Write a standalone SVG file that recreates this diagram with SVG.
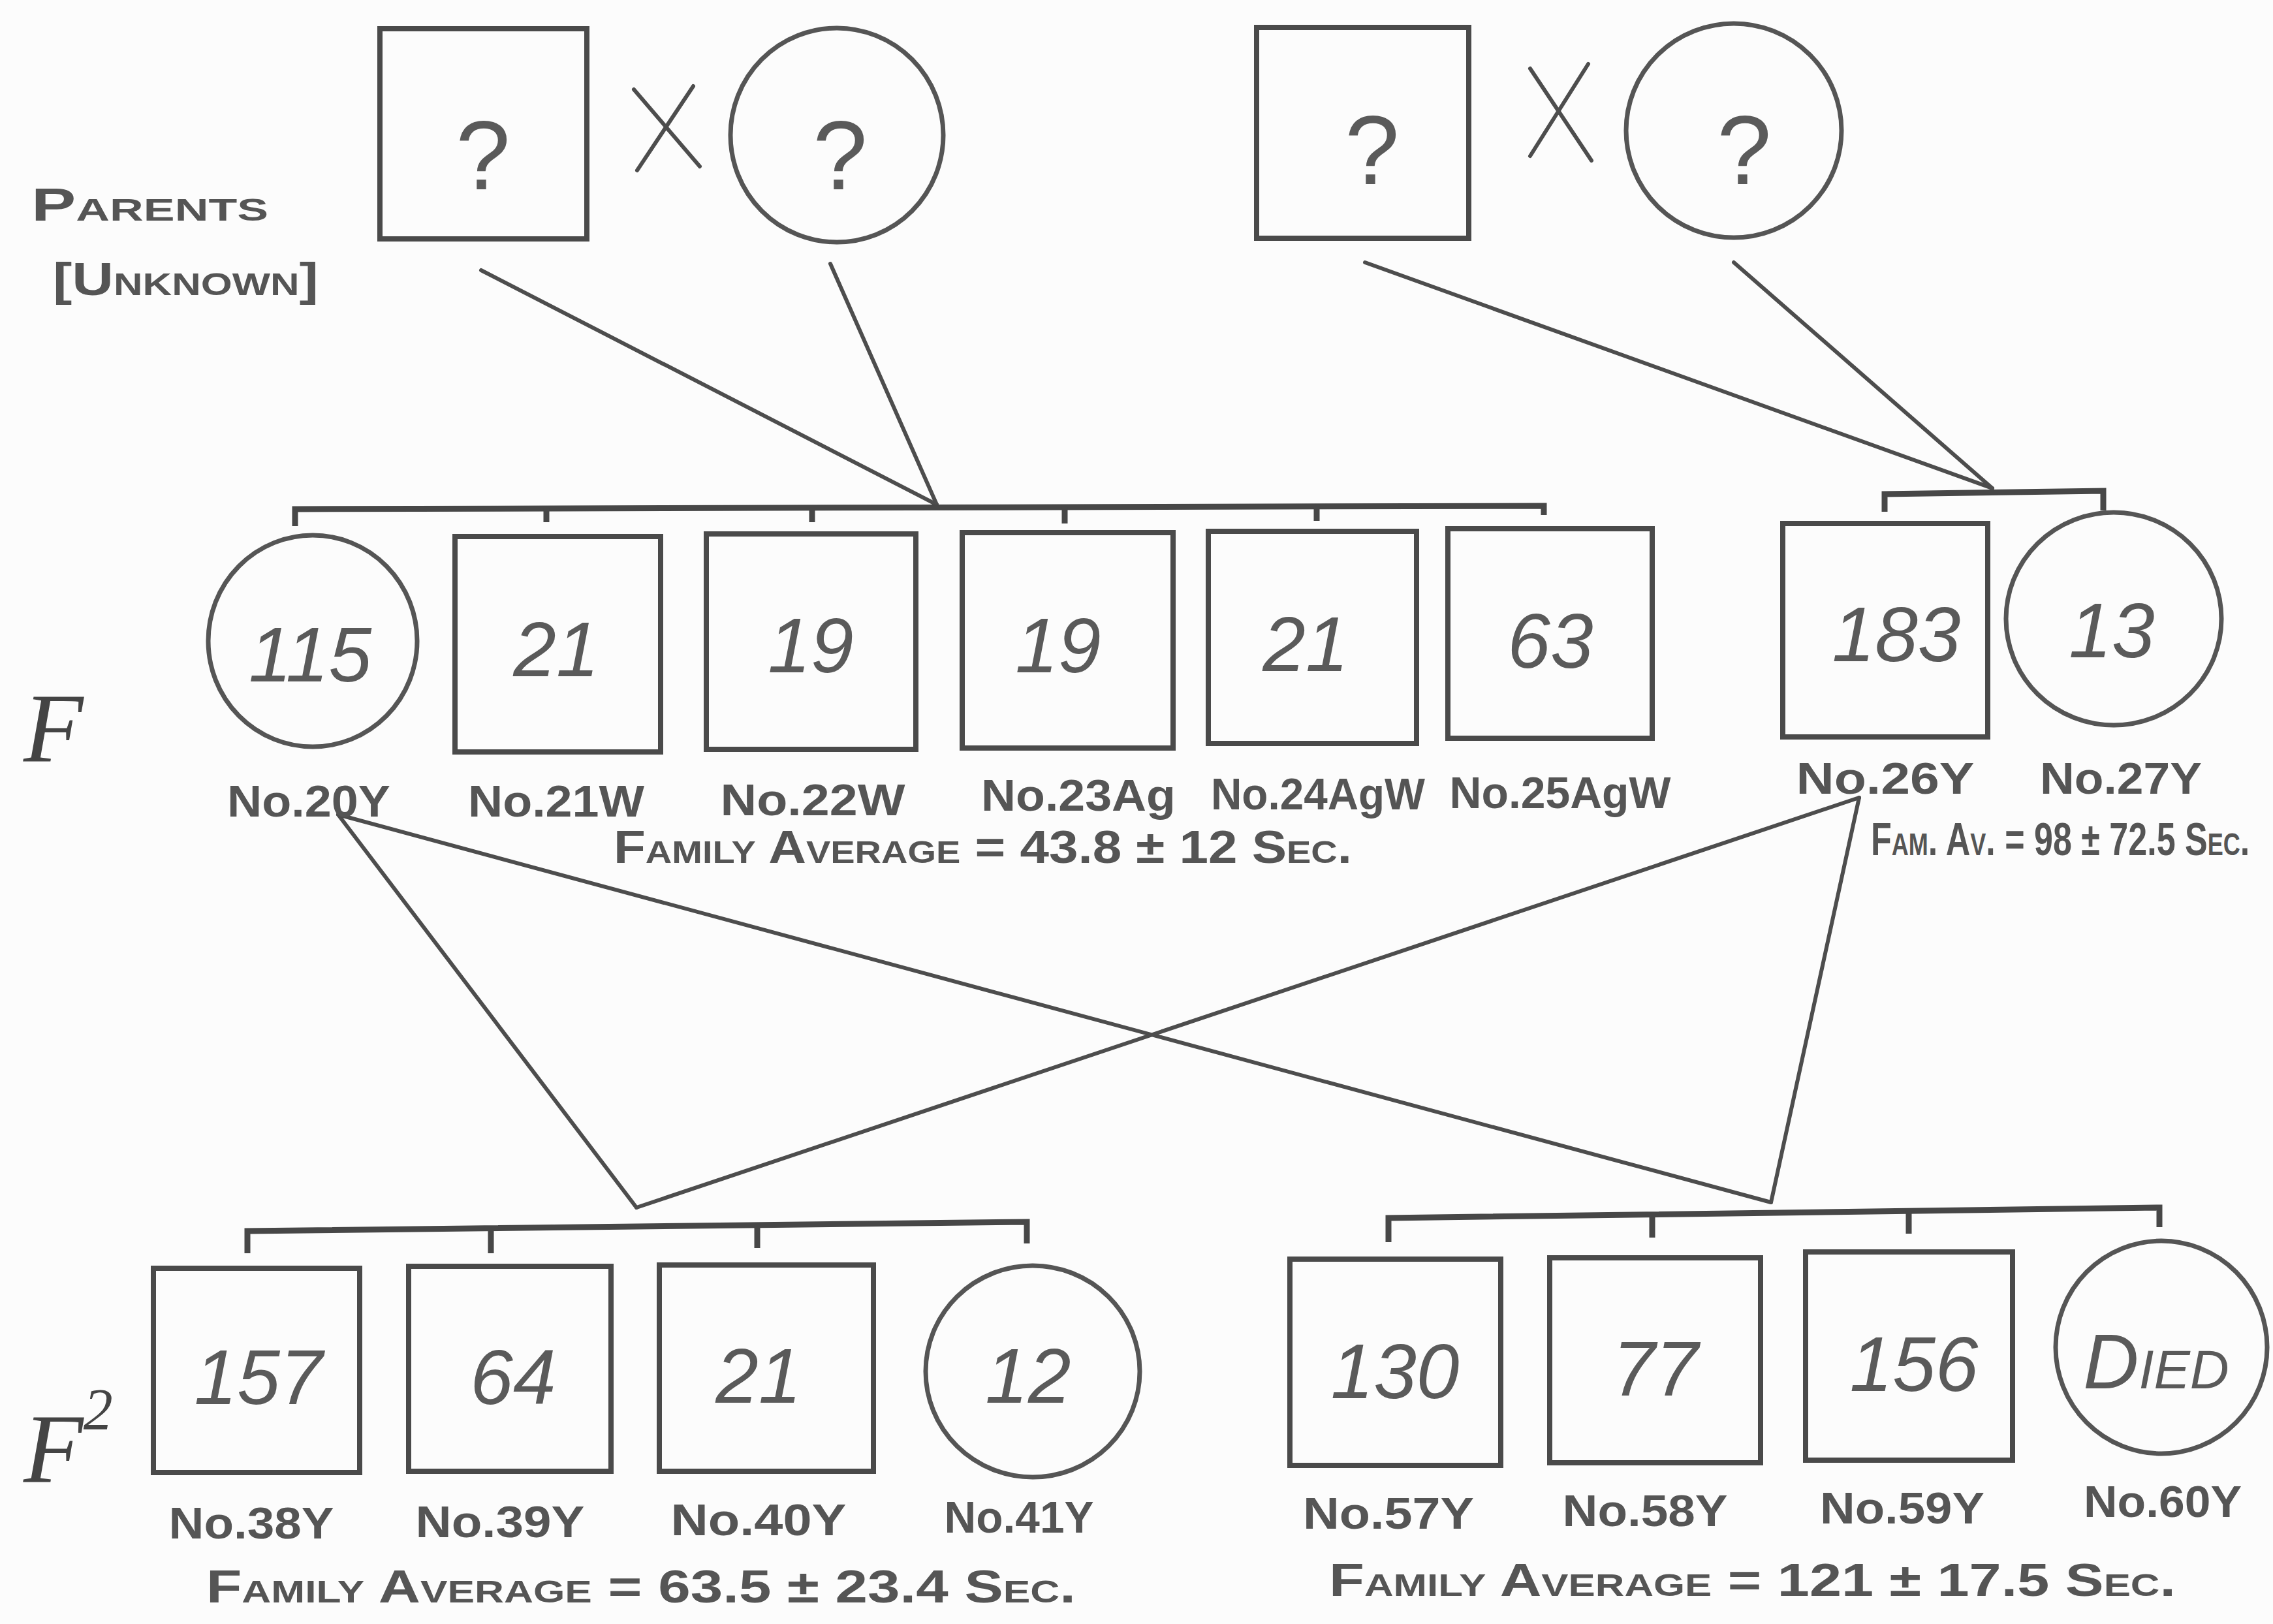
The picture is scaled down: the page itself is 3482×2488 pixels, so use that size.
<svg xmlns="http://www.w3.org/2000/svg" width="3482" height="2488" viewBox="0 0 3482 2488">
<style>
.bg{fill:#fcfcfc}
.sq{fill:none;stroke:#4a4a4a;stroke-width:8}
.ci{fill:none;stroke:#555;stroke-width:7}
.ln{fill:none;stroke:#4d4d4d;stroke-width:6;stroke-linecap:round;stroke-linejoin:round}
.br{fill:none;stroke:#474747;stroke-width:9;stroke-linejoin:miter}
.num{font-family:"Liberation Sans","DejaVu Sans",sans-serif;font-style:italic;font-size:118px;fill:#5a5a5a;text-anchor:middle}
.q{font-family:"Liberation Sans","DejaVu Sans",sans-serif;font-size:150px;fill:#5a5a5a;text-anchor:middle}
.lab{font-family:"Liberation Sans","DejaVu Sans",sans-serif;font-weight:bold;font-size:68px;fill:#555;text-anchor:middle}
.avg{font-family:"Liberation Sans","DejaVu Sans",sans-serif;font-weight:bold;font-size:70px;fill:#555;font-variant:small-caps}
.gen{font-family:"Liberation Serif","DejaVu Serif",serif;font-style:italic;font-size:150px;fill:#444}
</style>
<rect class="bg" x="0" y="0" width="3482" height="2488"/>

<g id="parents-label">
<text class="avg" x="48" y="338" font-size="78" textLength="363" lengthAdjust="spacingAndGlyphs">Parents</text>
<text class="avg" x="81" y="452" font-size="78" textLength="407" lengthAdjust="spacingAndGlyphs">[Unknown]</text>
</g>

<g id="gen-F"><text class="gen" x="36" y="1166">F</text></g>
<g id="gen-F2"><text class="gen" x="36" y="2270">F<tspan font-size="90" dy="-80">2</tspan></text></g>

<g id="connectors">
<line class="ln" x1="737" y1="414" x2="1435" y2="773"/>
<line class="ln" x1="1272" y1="404" x2="1435" y2="773"/>
<line class="ln" x1="2091" y1="402" x2="3052" y2="748"/>
<line class="ln" x1="2656" y1="402" x2="3052" y2="748"/>
<path class="br" d="M452,806 L452,780 L2365,775 L2365,789"/>
<path class="br" d="M837,779 V800 M1244,778 V800 M1631,777 V802 M2017,776 V798"/>
<path class="br" d="M2887,784 L2887,757 L3222,752 L3222,782"/>
<line class="ln" x1="518" y1="1248" x2="975" y2="1850"/>
<line class="ln" x1="518" y1="1248" x2="2713" y2="1842"/>
<line class="ln" x1="2848" y1="1222" x2="975" y2="1850"/>
<line class="ln" x1="2848" y1="1222" x2="2713" y2="1842"/>
<path class="br" d="M379,1920 L379,1886 L1573,1872 L1573,1905"/>
<path class="br" d="M752,1882 V1920 M1160,1877 V1912"/>
<path class="br" d="M2127,1903 L2127,1866 L3308,1850 L3308,1880"/>
<path class="br" d="M2531,1861 V1896 M2924,1856 V1890"/>
</g>

<g id="parent-m1"><rect class="sq" x="582" y="44" width="317" height="322"/><text class="q" x="740" y="290">?</text></g>
<g id="cross1"><path class="ln" d="M971,137 L1072,255 M1062,132 L976,261"/></g>
<g id="parent-f1"><ellipse class="ci" cx="1282" cy="207" rx="163" ry="164"/><text class="q" x="1287" y="290">?</text></g>
<g id="parent-m2"><rect class="sq" x="1925" y="42" width="325" height="323"/><text class="q" x="2102" y="282">?</text></g>
<g id="cross2"><path class="ln" d="M2344,105 L2438,246 M2433,98 L2344,239"/></g>
<g id="parent-f2"><ellipse class="ci" cx="2656" cy="200" rx="165" ry="164"/><text class="q" x="2672" y="282">?</text></g>

<g id="n20"><ellipse class="ci" cx="479" cy="982" rx="160" ry="162"/><text class="num" x="475" y="1044">115</text><text class="lab" x="473" y="1251" textLength="250" lengthAdjust="spacingAndGlyphs">No.20Y</text></g>
<g id="n21"><rect class="sq" x="697" y="822" width="315" height="330"/><text class="num" x="852" y="1036">21</text><text class="lab" x="852" y="1251" textLength="270" lengthAdjust="spacingAndGlyphs">No.21W</text></g>
<g id="n22"><rect class="sq" x="1082" y="818" width="321" height="330"/><text class="num" x="1242" y="1030">19</text><text class="lab" x="1245" y="1249" textLength="283" lengthAdjust="spacingAndGlyphs">No.22W</text></g>
<g id="n23"><rect class="sq" x="1474" y="816" width="323" height="330"/><text class="num" x="1621" y="1030">19</text><text class="lab" x="1652" y="1242" textLength="298" lengthAdjust="spacingAndGlyphs">No.23Ag</text></g>
<g id="n24"><rect class="sq" x="1851" y="814" width="319" height="325"/><text class="num" x="2000" y="1028">21</text><text class="lab" x="2019" y="1240" textLength="328" lengthAdjust="spacingAndGlyphs">No.24AgW</text></g>
<g id="n25"><rect class="sq" x="2218" y="810" width="313" height="321"/><text class="num" x="2375" y="1023">63</text><text class="lab" x="2390" y="1238" textLength="339" lengthAdjust="spacingAndGlyphs">No.25AgW</text></g>
<g id="n26"><rect class="sq" x="2731" y="802" width="314" height="327"/><text class="num" x="2905" y="1013">183</text><text class="lab" x="2888" y="1216" textLength="273" lengthAdjust="spacingAndGlyphs">No.26Y</text></g>
<g id="n27"><ellipse class="ci" cx="3238" cy="948" rx="165" ry="163"/><text class="num" x="3235" y="1007">13</text><text class="lab" x="3249" y="1216" textLength="248" lengthAdjust="spacingAndGlyphs">No.27Y</text></g>

<g id="avg-F1"><text class="avg" x="940" y="1322" textLength="1131" lengthAdjust="spacingAndGlyphs">Family Average = 43.8 ± 12 Sec.</text></g>
<g id="avg-F2"><text class="avg" transform="translate(2866,1310) scale(0.6,1)" x="0" y="0" font-size="58" textLength="967" lengthAdjust="spacingAndGlyphs">Fam. Av. = 98 ± 72.5 Sec.</text></g>

<g id="n38"><rect class="sq" x="235" y="1943" width="316" height="313"/><text class="num" x="396" y="2151">157</text><text class="lab" x="385" y="2357" textLength="253" lengthAdjust="spacingAndGlyphs">No.38Y</text></g>
<g id="n39"><rect class="sq" x="626" y="1940" width="310" height="314"/><text class="num" x="786" y="2151">64</text><text class="lab" x="766" y="2355" textLength="259" lengthAdjust="spacingAndGlyphs">No.39Y</text></g>
<g id="n40"><rect class="sq" x="1010" y="1938" width="328" height="316"/><text class="num" x="1162" y="2149">21</text><text class="lab" x="1162" y="2352" textLength="269" lengthAdjust="spacingAndGlyphs">No.40Y</text></g>
<g id="n41"><ellipse class="ci" cx="1582" cy="2101" rx="164" ry="162"/><text class="num" x="1575" y="2149">12</text><text class="lab" x="1561" y="2348" textLength="229" lengthAdjust="spacingAndGlyphs">No.41Y</text></g>
<g id="avg-F2a"><text class="avg" x="316" y="2455" textLength="1332" lengthAdjust="spacingAndGlyphs">Family Average = 63.5 ± 23.4 Sec.</text></g>

<g id="n57"><rect class="sq" x="1976" y="1929" width="323" height="316"/><text class="num" x="2137" y="2142">130</text><text class="lab" x="2127" y="2342" textLength="262" lengthAdjust="spacingAndGlyphs">No.57Y</text></g>
<g id="n58"><rect class="sq" x="2374" y="1927" width="323" height="314"/><text class="num" x="2536" y="2138">77</text><text class="lab" x="2520" y="2338" textLength="253" lengthAdjust="spacingAndGlyphs">No.58Y</text></g>
<g id="n59"><rect class="sq" x="2766" y="1918" width="317" height="319"/><text class="num" x="2932" y="2131">156</text><text class="lab" x="2914" y="2334" textLength="252" lengthAdjust="spacingAndGlyphs">No.59Y</text></g>
<g id="n60"><ellipse class="ci" cx="3311" cy="2064" rx="162" ry="163"/><text class="num" x="3303" y="2127" font-size="104" style="font-variant:small-caps">Died</text><text class="lab" x="3313" y="2324" textLength="242" lengthAdjust="spacingAndGlyphs">No.60Y</text></g>
<g id="avg-F2b"><text class="avg" x="2036" y="2445" textLength="1297" lengthAdjust="spacingAndGlyphs">Family Average = 121 ± 17.5 Sec.</text></g>
</svg>
